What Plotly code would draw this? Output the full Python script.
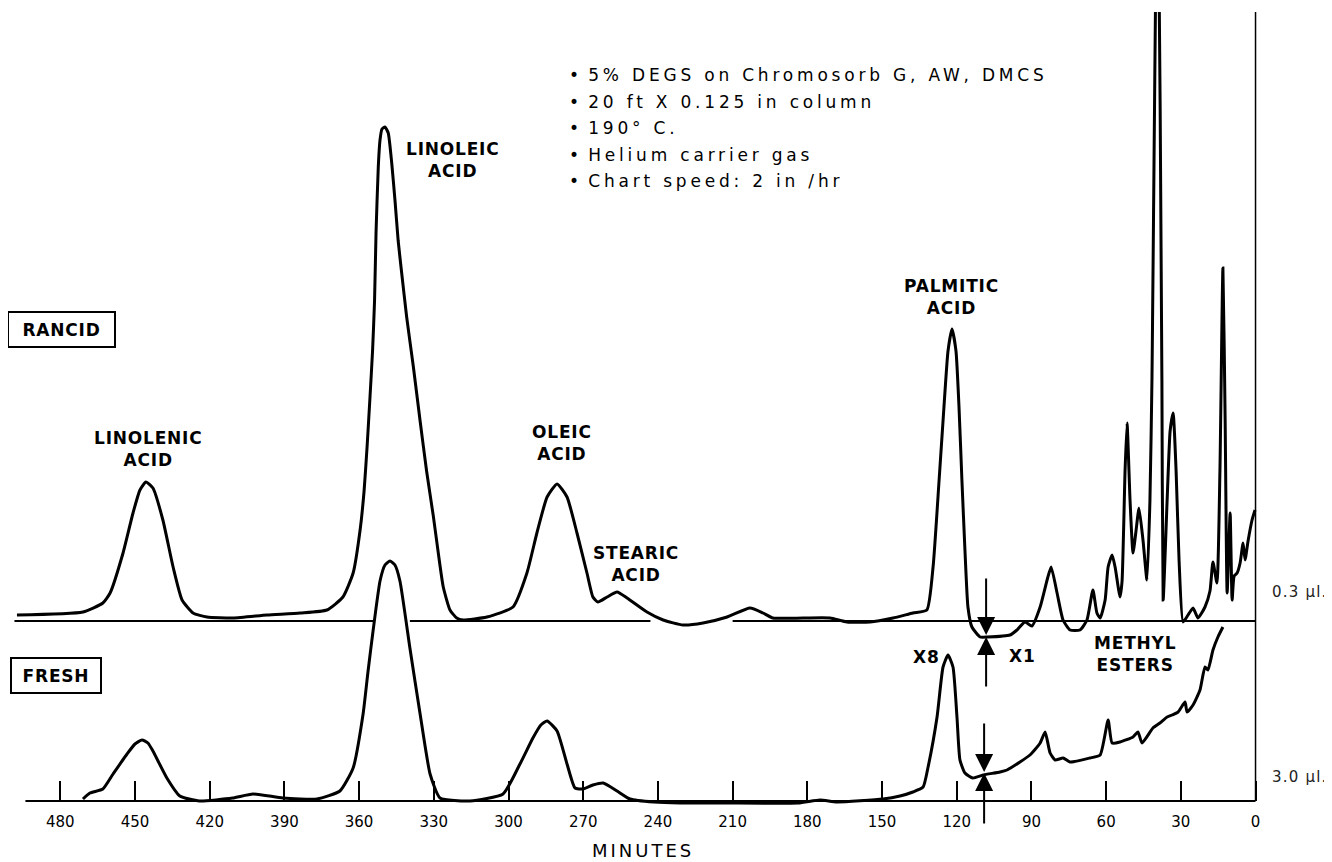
import plotly.graph_objects as go

# ---------------- data ----------------
rancid_minutes = [497.4, 470.9, 462.9, 460.0, 454.8, 450.8, 448.0, 445.6, 442.8, 438.8,
                  434.7, 431.1, 426.7, 421.1, 410.6, 397.0, 383.7, 372.9,
                  366.5, 362.4, 359.6, 358.0, 356.8, 355.6, 354.6, 353.8, 353.2, 352.3,
                  351.6, 350.8, 349.6, 348.3, 346.9, 345.6, 344.3, 342.9, 340.9, 338.2,
                  335.5, 332.9, 330.2, 328.2, 326.2, 323.5, 320.8, 318.3,
                  308.7, 298.2, 292.6, 288.6, 284.5, 280.5, 276.5, 272.5, 268.5, 266.1,
                  264.1, 260.4, 256.4, 252.4, 244.4, 237.9, 229.9, 221.9, 212.2, 203.0,
                  197.8, 193.8, 181.7, 170.9, 164.1, 154.8, 145.6, 137.6, 132.0, 129.5,
                  127.1, 125.1, 123.5, 121.9, 120.3, 119.1, 117.9, 116.7, 115.5, 113.9,
                  110.6, 107.8, 98.6, 95.8, 92.6, 89.8, 86.5, 83.7, 82.1, 79.7,
                  77.3, 74.5, 70.5, 67.7, 65.3, 63.7, 62.4, 60.4, 59.2, 57.6,
                  56.4, 54.4, 53.6, 52.4, 51.6, 50.4, 49.2, 48.0, 46.8, 45.2,
                  43.6, 42.4, 41.6, 39.3, 37.6, 37.1, 35.5, 34.3, 33.1,
                  31.9, 30.7, 29.1, 27.1, 25.1, 23.1, 20.3, 18.3, 17.1, 15.5,
                  14.3, 13.1, 12.2, 11.4, 10.2, 9.4, 8.6, 7.4, 6.2, 5.0,
                  4.2, 3.0, 1.4, 0.2]
rancid_response = [6, 9, 18, 28, 68, 108, 131, 139, 133, 101,
                   54, 21, 8, 4, 3, 6, 8, 11,
                   24, 48, 91, 130, 174, 225, 270, 320, 388, 454,
                   481, 492, 494, 488, 458, 421, 380, 348, 304, 254,
                   200, 150, 105, 68, 34, 11, 3, 1,
                   4, 14, 48, 88, 124, 137, 124, 88, 48, 24,
                   19, 24, 29, 23, 9, 1, -4, -2, 4, 13,
                   8, 3, 3, 3, -1, -1, 3, 8, 11, 54,
                   140, 215, 270, 292, 270, 215, 140, 71, 14, -6,
                   -16, -16, -14, -9, -1, -5, 14, 41, 54, 28,
                   1, -9, -9, 1, 31, 8, 3, 21, 54, 66,
                   54, 24, 40, 150, 198, 121, 68, 90, 113, 81,
                   41, 121, 241, 800, 241, 21, 121, 190, 208,
                   150, 60, -1, 6, 13, 3, 14, 30, 59, 38,
                   150, 353, 200, 28, 108, 21, 45, 48, 58, 78,
                   61, 80, 101, 111]

fresh_minutes = [470.9, 468.1, 462.9, 458.8, 453.2, 450.0, 447.2, 444.8, 442.8, 437.2,
                 432.0, 424.1, 410.8, 402.6, 390.6, 376.9, 367.7, 362.4, 358.4, 356.4,
                 354.4, 351.6, 349.6, 347.6, 345.6, 343.6, 339.6, 335.5, 331.5, 327.5,
                 315.5, 302.2, 295.4, 290.2, 287.0, 284.5, 280.5, 276.5, 273.3, 270.1,
                 266.1, 262.0, 256.4, 251.2, 241.6, 231.1, 214.3, 183.7, 174.9, 168.1,
                 149.6, 142.8, 137.6, 133.5, 131.5, 127.9, 125.5, 123.5, 121.5, 119.9,
                 118.7, 116.7, 113.5, 109.4, 102.6, 99.8, 94.6, 90.6, 86.5, 84.5,
                 82.5, 80.5, 77.3, 74.5, 66.5, 62.4, 59.2, 57.6, 54.4, 49.2,
                 47.2, 45.6, 41.2, 38.4, 35.5, 33.5, 31.1, 28.3, 27.5, 25.1,
                 22.3, 20.3, 19.1, 17.1, 15.1, 13.1]
fresh_response = [2, 8, 12, 27, 47, 57, 61, 58, 50, 23,
                  5, 0, 3, 7, 3, 2, 10, 33, 87, 130,
                  170, 220, 236, 240, 236, 220, 153, 87, 27, 3,
                  0, 7, 37, 63, 76, 80, 70, 37, 13, 12,
                  16, 18, 10, 2, -1, -2, -2, -2, 1, -1,
                  2, 5, 9, 14, 34, 84, 134, 146, 134, 84,
                  41, 28, 23, 26, 29, 31, 39, 46, 58, 69,
                  48, 41, 43, 39, 43, 46, 81, 58, 59, 64,
                  69, 58, 73, 78, 84, 86, 89, 99, 89, 96,
                  111, 134, 131, 151, 164, 174]

tick_minutes = [480, 450, 420, 390, 360, 330, 300, 270, 240, 210, 180, 150, 120, 90, 60, 30, 0]
tick_labels = [str(t) for t in tick_minutes]

peak_names = ["LINOLENIC", "LINOLEIC", "OLEIC", "STEARIC", "PALMITIC"]
peak_label_minutes = [444.6, 322.3, 278.5, 248.8, 122.3]
peak_label_heights = [352, 641, 358, 237, 504]

conditions = ["5% DEGS on Chromosorb G, AW, DMCS",
              "20 ft X 0.125 in column",
              "190° C.",
              "Helium carrier gas",
              "Chart speed: 2 in /hr"]

FONT = "DejaVu Sans"
INK = "black"


def spaced(text, ls):
    return '<span style="letter-spacing:%spx">%s</span>' % (ls, text)


fig = go.Figure()

fig.add_trace(go.Scatter(x=fresh_minutes, y=fresh_response, mode="lines",
                         line=dict(color=INK, width=3, shape="spline", smoothing=0.5),
                         yaxis="y", showlegend=False, hoverinfo="skip"))
fig.add_trace(go.Scatter(x=rancid_minutes, y=rancid_response, mode="lines",
                         line=dict(color=INK, width=3, shape="spline", smoothing=0.5),
                         yaxis="y2", showlegend=False, hoverinfo="skip"))

shapes = []
# rancid baseline (with gaps as in the original)
for x0, x1 in [(498.4, 354.4), (339.6, 243.0), (210.0, 0.0)]:
    shapes.append(dict(type="line", xref="x", yref="y2", x0=x0, x1=x1, y0=0, y1=0,
                       line=dict(color=INK, width=2)))
# fresh baseline / time axis
shapes.append(dict(type="line", xref="x", yref="y", x0=494, x1=0, y0=0, y1=0,
                   line=dict(color=INK, width=2)))
# right border at injection time
shapes.append(dict(type="line", xref="x", yref="paper", x0=0, x1=0, y0=0.0075, y1=1,
                   line=dict(color=INK, width=1.5)))

ann = []
lab_font = dict(family=FONT, size=17, color=INK, weight="bold")
for name, xm, yh in zip(peak_names, peak_label_minutes, peak_label_heights):
    ann.append(dict(x=xm, y=yh, xref="x", yref="y", showarrow=False,
                    text=spaced(name, 0.8) + "<br>" + spaced("ACID", 0.8),
                    font=lab_font, align="center"))

for txt, xm, yh in [("X8", 132.3, 144), ("X1", 93.4, 145)]:
    ann.append(dict(x=xm, y=yh, xref="x", yref="y", showarrow=False,
                    text=spaced(txt, 1), font=lab_font))
ann.append(dict(x=48.4, y=147, xref="x", yref="y", showarrow=False,
                text=spaced("METHYL", 0.8) + "<br>" + spaced("ESTERS", 0.8),
                font=lab_font, align="center"))

# sample boxes
ann.append(dict(x=479.5, y=471.5, xref="x", yref="y", showarrow=False,
                text=spaced("RANCID", 0.8), font=lab_font,
                bordercolor=INK, borderwidth=2, borderpad=4, width=97, height=25))
ann.append(dict(x=481.7, y=125.5, xref="x", yref="y", showarrow=False,
                text=spaced("FRESH", 0.8), font=lab_font,
                bordercolor=INK, borderwidth=2, borderpad=4, width=80, height=25))

# condition list
cond_y = [726, 699, 673, 646, 620]
for txt, yy in zip(conditions, cond_y):
    ann.append(dict(x=276.6, y=yy, xref="x", yref="y", showarrow=False,
                    xanchor="left", align="left",
                    text="•" + spaced(" " + txt, 3.8),
                    font=dict(family=FONT, size=17, color=INK)))

# sample volumes
for txt, yy in [("0.3 µl.", 209), ("3.0 µl.", 24)]:
    ann.append(dict(x=1.0287, y=yy, xref="paper", yref="y", showarrow=False,
                    xanchor="center", yanchor="middle",
                    text=spaced(txt, 1.2), font=dict(family=FONT, size=15, color="#222")))

# attenuation-change arrows
arr = dict(showarrow=True, arrowhead=2, arrowsize=1.8, arrowwidth=2,
           arrowcolor=INK, text="", ax=0, axref="pixel", ayref="pixel", standoff=0)
ann.append(dict(arr, x=108.2, y=-14, xref="x", yref="y2", ay=-58))
ann.append(dict(arr, x=108.2, y=-16, xref="x", yref="y2", ay=51))
ann.append(dict(arr, x=109.0, y=29, xref="x", yref="y", ay=-50))
ann.append(dict(arr, x=109.0, y=28, xref="x", yref="y", ay=52))

# axis title
ann.append(dict(x=246, y=-0.0553, xref="x", yref="paper", showarrow=False,
                xanchor="center", yanchor="middle",
                text=spaced("MINUTES", 3),
                font=dict(family=FONT, size=18, color=INK)))

fig.update_layout(
    width=1332, height=862,
    margin=dict(l=0, r=76, t=4, b=63),
    paper_bgcolor="white", plot_bgcolor="white",
    showlegend=False,
    xaxis=dict(range=[501.0, -3.4], anchor="free", position=0.0075,
               tickvals=tick_minutes, ticktext=tick_labels,
               ticks="inside", ticklen=20, tickwidth=1.5, tickcolor=INK,
               ticklabelstandoff=10,
               tickfont=dict(family=FONT, size=15, color=INK),
               showgrid=False, zeroline=False, showline=False),
    yaxis=dict(range=[-6, 789], visible=False, showgrid=False, zeroline=False),
    yaxis2=dict(range=[-186, 609], overlaying="y", visible=False,
                showgrid=False, zeroline=False),
    shapes=shapes,
    annotations=ann,
)

fig.write_html("out.html")
